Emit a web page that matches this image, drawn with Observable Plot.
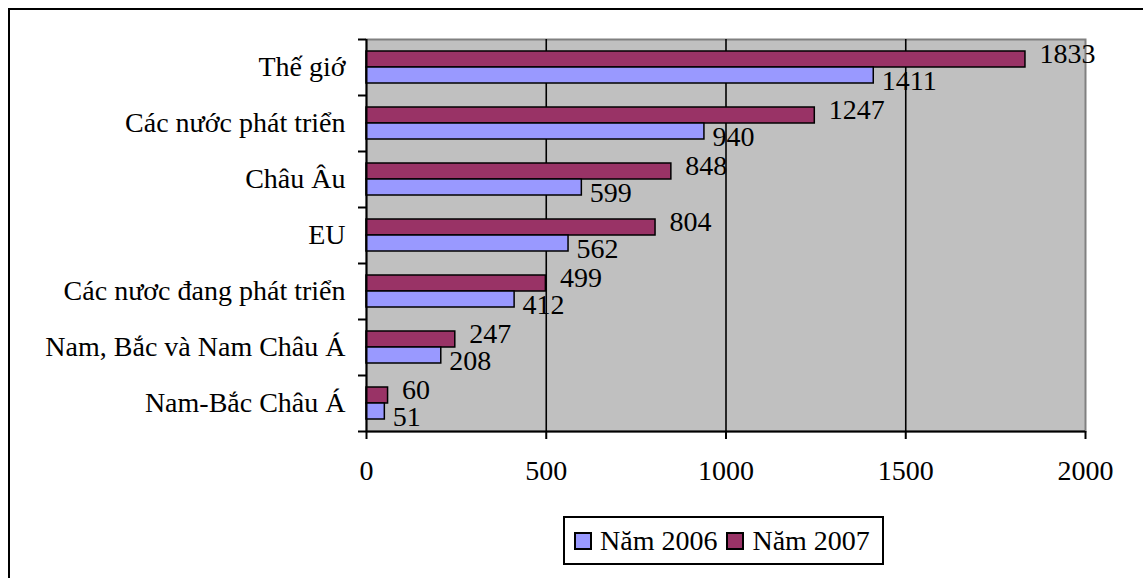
<!DOCTYPE html>
<html>
<head>
<meta charset="utf-8">
<script src="https://cdn.jsdelivr.net/npm/d3@7"></script>
<script src="https://cdn.jsdelivr.net/npm/@observablehq/plot@0.6"></script>
<style>
  html, body { margin: 0; padding: 0; background: #fff; overflow: hidden; }
  #page { position: relative; width: 1143px; height: 578px; }
  #page, #page svg, #page svg text, #legend { font-family: "Liberation Serif", "Times New Roman", Tinos, "DejaVu Serif", serif !important; }
  #outline { position: absolute; left: 8px; top: 8px; width: 1300px; height: 700px;
             border-top: 2.5px solid #000; border-left: 2.5px solid #000; pointer-events: none; z-index: 2; }
  #chart { position: absolute; left: 0; top: 0; }
  #legend { position: absolute; left: 563px; top: 516px; width: 317px; height: 45px;
            border: 2px solid #000; background: #fff; display: flex; align-items: center;
            font-size: 28px; color: #000; box-sizing: content-box; }
  .item { display: flex; align-items: center; }
  .swatch { width: 14px; height: 14px; border: 2px solid #000; margin-left: 9px; margin-right: 8px; }
</style>
</head>
<body>
<div id="page">
  <div id="chart"></div>
  <div id="legend"></div>
  <div id="outline"></div>
</div>
<script>
// Regions, top to bottom
const categories = [
  "Thế giớ",
  "Các nước phát triển",
  "Châu Âu",
  "EU",
  "Các nươc đang phát triển",
  "Nam, Bắc và Nam Châu Á",
  "Nam-Bắc Châu Á"
];
const values2006 = [1411, 940, 599, 562, 412, 208, 51];
const values2007 = [1833, 1247, 848, 804, 499, 247, 60];
const seriesNames = ["Năm 2006", "Năm 2007"];
const seriesColors = ["#9999FF", "#993366"];
const xTicks = [0, 500, 1000, 1500, 2000];
const gridTicks = [500, 1000, 1500];

const rows2006 = categories.map((c, i) => ({category: c, value: values2006[i]}));
const rows2007 = categories.map((c, i) => ({category: c, value: values2007[i]}));

const font = "'Liberation Serif', 'Times New Roman', Tinos, 'DejaVu Serif', serif";
const fontSize = 28;

const chart = Plot.plot({
  width: 1143,
  height: 500,
  marginLeft: 366,
  marginRight: 58,
  marginTop: 39,
  marginBottom: 69,
  style: {background: "transparent", fontFamily: font, fontSize: fontSize + "px", color: "#000"},
  x: {domain: [0, 2000], ticks: xTicks, label: null},
  y: {domain: categories, padding: 0, label: null},
  marks: [
    // grey plot area with its thin grey border
    Plot.frame({fill: "#C0C0C0", stroke: "#808080", strokeWidth: 2}),
    // vertical gridlines
    Plot.ruleX(gridTicks, {stroke: "#000", strokeWidth: 1.6}),
    // 2007 bar sits in the upper half of each band, 2006 just below it
    Plot.barX(rows2007, {x: "value", y: "category", fill: seriesColors[1], stroke: "#000", strokeWidth: 1.5, insetTop: 12, insetBottom: 28}),
    Plot.barX(rows2006, {x: "value", y: "category", fill: seriesColors[0], stroke: "#000", strokeWidth: 1.5, insetTop: 28, insetBottom: 12}),
    // value labels
    Plot.text(rows2007, {x: "value", y: "category", text: d => String(d.value), textAnchor: "start", dx: 14, dy: -13, fontSize, fill: "#000"}),
    Plot.text(rows2006, {x: "value", y: "category", text: d => String(d.value), textAnchor: "start", dx: 8, dy: 14, fontSize, fill: "#000"}),
    // axis lines
    Plot.ruleX([0], {stroke: "#000", strokeWidth: 2}),
    Plot.ruleY([categories[categories.length - 1]], {stroke: "#000", strokeWidth: 2, dy: 28}),
    // category labels
    Plot.axisY({tickSize: 0, tickPadding: 21, fontSize, label: null}),
    // tick marks on the band boundaries
    Plot.axisY({tickSize: 8, tickFormat: () => "", dy: -28, strokeWidth: 2, label: null}),
    Plot.axisY([categories[categories.length - 1]], {tickSize: 8, tickFormat: () => "", dy: 28, strokeWidth: 2, label: null}),
    // bottom axis
    Plot.axisX({ticks: xTicks, tickSize: 8, tickPadding: 21, strokeWidth: 2, fontSize, label: null, tickFormat: d => String(d)})
  ]
});
document.getElementById("chart").appendChild(chart);

// legend below the plot
const legend = document.getElementById("legend");
seriesNames.forEach((name, i) => {
  const item = document.createElement("div");
  item.className = "item";
  const sw = document.createElement("div");
  sw.className = "swatch";
  sw.style.background = seriesColors[i];
  const label = document.createElement("span");
  label.textContent = name;
  item.appendChild(sw);
  item.appendChild(label);
  legend.appendChild(item);
});
</script>
</body>
</html>
